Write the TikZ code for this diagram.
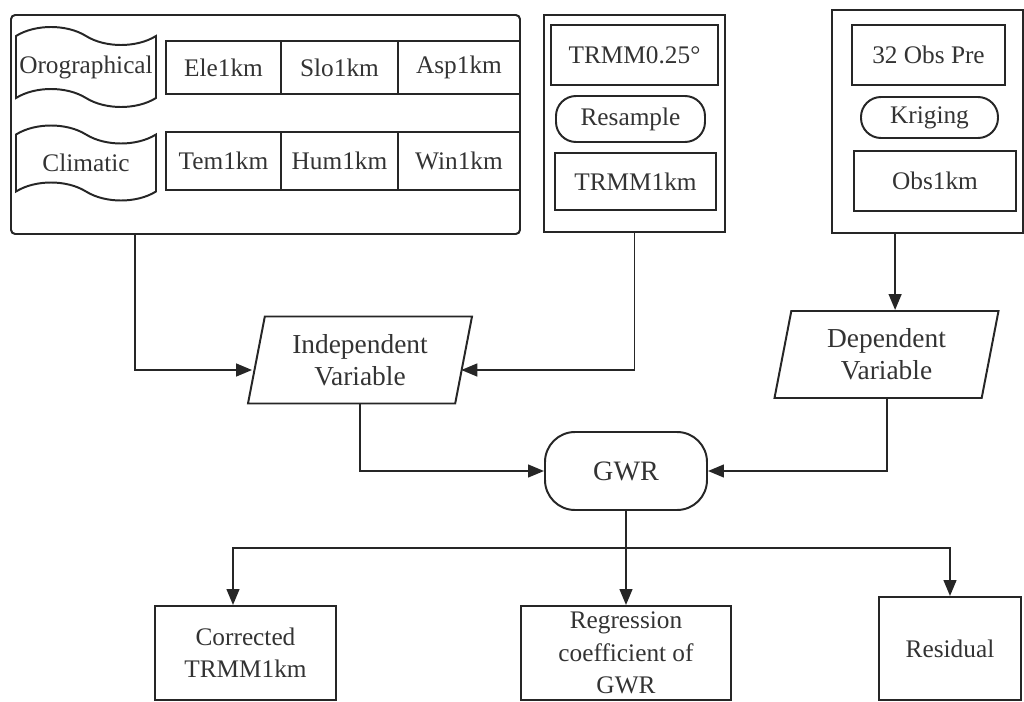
\documentclass[tikz,border=0pt]{standalone}
\usepackage{fontspec}
\setmainfont{Liberation Serif}
\usetikzlibrary{shapes.geometric, shapes.symbols, arrows.meta, positioning, calc}

\begin{document}
\begin{tikzpicture}[
        font=\fontsize{18}{23}\selectfont,
        grp/.style={rectangle, draw=black!85, line width=1.4pt, inner sep=0pt},
        cell/.style={rectangle, draw=black!85, line width=1.4pt, inner sep=0pt, outer sep=0pt, text=black!80},
        procbox/.style={rectangle, draw=black!85, line width=1.4pt, rounded corners=0.5cm, inner sep=0pt, text=black!80},
        tapebox/.style={tape, draw=black!85, line width=1.4pt, tape bend top=out and in, tape bend bottom=out and in, tape bend height=0.45cm, minimum width=3.5cm, inner sep=0pt, text=black!80},
        varbox/.style={trapezium, trapezium left angle=72, trapezium right angle=108, trapezium stretches body, draw=black!85, line width=1.4pt, align=center, inner sep=0pt, minimum width=5.6cm, minimum height=2.175cm, text=black!80, font=\fontsize{19.5}{23}\selectfont},
        outbox/.style={rectangle, draw=black!85, line width=1.4pt, align=center, inner sep=0pt, minimum height=2.35cm, text=black!80},
        arr/.style={-{Triangle[length=0.4cm, width=0.32cm]}, line width=1.4pt, draw=black!85}
    ]
        \useasboundingbox (0,0) rectangle (25.6,-17.55);
        % input groups
        \node[grp, rounded corners=3pt, minimum width=12.725cm, minimum height=5.475cm] (terrain) at (6.6375,-3.1125) {};
        \node[tapebox, minimum height=2cm] (oro) at (2.15,-1.675) {Orographical};
        \node[tapebox, minimum height=1.875cm] (cli) at (2.15,-4.075) {Climatic};
        \node[cell, minimum width=2.875cm, minimum height=1.325cm, anchor=west] (ele) at (4.15,-1.6875) {Ele1km};
        \node[cell, minimum width=2.925cm, minimum height=1.325cm, right=0pt of ele] (slo) {Slo1km};
        \node[cell, minimum width=3.05cm, minimum height=1.325cm, right=0pt of slo] (asp) {Asp1km};
        \node[cell, minimum width=2.875cm, minimum height=1.45cm, anchor=west] (tem) at (4.15,-4.025) {Tem1km};
        \node[cell, minimum width=2.925cm, minimum height=1.45cm, right=0pt of tem] (hum) {Hum1km};
        \node[cell, minimum width=3.05cm, minimum height=1.45cm, right=0pt of hum] (win) {Win1km};

        \node[grp, minimum width=4.525cm, minimum height=5.425cm] (trmmgrp) at (15.8625,-3.0875) {};
        \node[cell, minimum width=4.175cm, minimum height=1.5cm] (trmmcoarse) at (15.8625,-1.375) {TRMM0.25\textdegree};
        \node[procbox, minimum width=3.725cm, minimum height=1.15cm] (resample) at (15.7625,-2.975) {Resample};
        \node[cell, minimum width=4.025cm, minimum height=1.425cm] (trmmfine) at (15.8875,-4.5375) {TRMM1km};

        \node[grp, minimum width=4.775cm, minimum height=5.575cm] (obsgrp) at (23.1875,-3.0375) {};
        \node[cell, minimum width=3.825cm, minimum height=1.5cm] (obspre) at (23.2125,-1.375) {32 Obs Pre};
        \node[procbox, minimum width=3.425cm, minimum height=1.025cm] (kriging) at (23.2375,-2.9375) {Kriging};
        \node[cell, minimum width=4.05cm, minimum height=1.5cm] (obsfine) at (23.375,-4.525) {Obs1km};

        % variables and model
        \node[varbox] (indep) at (9.0,-9.0) {Independent\\Variable};
        \node[varbox] (dep) at (22.1625,-8.8625) {Dependent\\Variable};
        \node[procbox, rounded corners=0.75cm, minimum width=4.05cm, minimum height=1.95cm, font=\fontsize{20}{24}\selectfont] (gwr) at (15.65,-11.775) {GWR};

        % outputs
        \node[outbox, minimum width=4.525cm] (corr) at (6.1375,-16.325) {Corrected\\TRMM1km};
        \node[outbox, minimum width=5.25cm] (reg) at (15.65,-16.325) {Regression\\coefficient of\\GWR};
        \node[outbox, minimum width=3.55cm, minimum height=2.575cm] (resid) at (23.75,-16.2125) {Residual};
        \coordinate[below=0.925cm of gwr.south] (fork);

        % connectors
        \draw[arr] ([xshift=3.125cm]terrain.south west) |- ([shift={(-0.083,-0.25)}]indep.west);
        \draw[arr] (trmmgrp.south) |- ([shift={(-0.083,-0.25)}]indep.east);
        \draw[arr] (obsgrp.south -| dep.top side) -- (dep.top side);
        \draw[arr] (indep.south) |- (gwr.west);
        \draw[arr] (dep.south) |- (gwr.east);
        \draw[arr] (gwr.south) -- (reg.north);
        \draw[arr] (fork) -| ([xshift=-0.3125cm]corr.north);
        \draw[arr] (fork) -| (resid.north);
    \end{tikzpicture}
\end{document}
